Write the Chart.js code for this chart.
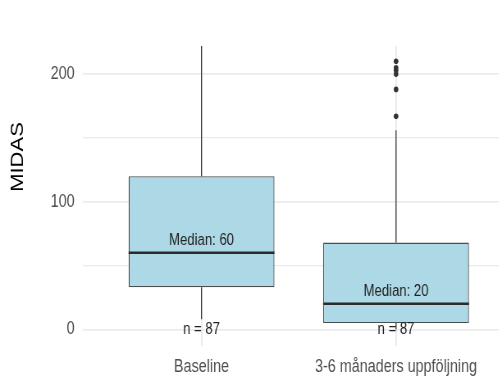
<!DOCTYPE html>
<html>
<head>
<meta charset="utf-8">
<script src="https://cdn.jsdelivr.net/npm/chart.js@4"></script>
<style>
  html, body { margin: 0; padding: 0; background: #fff; overflow: hidden; }
  #wrap { width: 612px; height: 378px; transform: scaleX(0.8203); transform-origin: 0 0; }
</style>
</head>
<body>
<div id="wrap"><canvas id="chart" width="612" height="378"></canvas></div>
<script>
// MIDAS scores per time point (box plot summary)
const categories = ['Baseline', '3-6 månaders uppföljning'];
const whiskerLow = [8, 0];
const q1 = [33, 5];
const medians = [60, 20];
const q3 = [120, 68];
const whiskerHigh = [222, 156];
const outliers = [[], [210, 205, 203, 200, 188, 167]];
const counts = [87, 87];
const yGridValues = [0, 50, 100, 150, 200];
const yTickLabels = [0, 100, 200];

const FONT = '"Liberation Sans", Arial, sans-serif';

// boxes: floating bars from Q1 to Q3
const boxData = categories.map((c, i) => ({ x: i + 1, y: [q1[i], q3[i]] }));

// whiskers: vertical segments separated by gaps
const whiskerData = [];
categories.forEach((c, i) => {
  whiskerData.push({ x: i + 1, y: whiskerLow[i] }, { x: i + 1, y: q1[i] }, { x: i + 1, y: null });
  whiskerData.push({ x: i + 1, y: q3[i] }, { x: i + 1, y: whiskerHigh[i] }, { x: i + 1, y: null });
});

// outlier points
const outlierData = [];
outliers.forEach((vals, i) => vals.forEach(v => outlierData.push({ x: i + 1, y: v })));

// median line + text annotations for each box
const boxAnnotations = {
  id: 'boxAnnotations',
  afterDatasetsDraw(chart) {
    const { ctx, scales: { x, y } } = chart;
    const bars = chart.getDatasetMeta(0).data;
    ctx.save();
    bars.forEach((bar, i) => {
      const half = bar.width / 2;
      const my = y.getPixelForValue(medians[i]);
      ctx.strokeStyle = '#2b2b2b';
      ctx.lineWidth = 2.5;
      ctx.beginPath();
      ctx.moveTo(bar.x - half, my);
      ctx.lineTo(bar.x + half, my);
      ctx.stroke();

      ctx.fillStyle = '#222';
      ctx.font = '16px ' + FONT;
      ctx.textAlign = 'center';
      ctx.textBaseline = 'middle';
      ctx.fillText('Median: ' + medians[i], bar.x, my - 12);
      ctx.fillText('n = ' + counts[i], x.getPixelForValue(i + 1), y.getPixelForValue(0));
    });
    ctx.restore();
  }
};

// rotated y axis title
const yTitle = {
  id: 'yTitle',
  afterDraw(chart) {
    const { ctx } = chart;
    ctx.save();
    ctx.translate(22, 157);
    ctx.rotate(-Math.PI / 2);
    ctx.fillStyle = '#000';
    ctx.font = '22px ' + FONT;
    ctx.textAlign = 'center';
    ctx.textBaseline = 'middle';
    ctx.fillText('MIDAS', 0, 0);
    ctx.restore();
  }
};

new Chart(document.getElementById('chart'), {
  type: 'bar',
  data: {
    datasets: [
      {
        type: 'bar',
        data: boxData,
        backgroundColor: '#add8e6',
        borderColor: '#4d4d4d',
        borderWidth: 1.3,
        borderSkipped: false,
        barPercentage: 0.75,
        categoryPercentage: 1
      },
      {
        type: 'scatter',
        data: outlierData,
        pointRadius: 2.8,
        pointBackgroundColor: '#333',
        pointBorderWidth: 0,
        showLine: false
      },
      {
        type: 'line',
        data: whiskerData,
        borderColor: '#333',
        borderWidth: 1.2,
        pointRadius: 0,
        spanGaps: false,
        fill: false
      }
    ]
  },
  options: {
    responsive: false,
    animation: false,
    devicePixelRatio: 1,
    layout: { padding: { top: 46, left: 0, right: 0, bottom: 0 } },
    plugins: { legend: { display: false }, tooltip: { enabled: false } },
    scales: {
      x: {
        type: 'linear',
        min: 0.39,
        max: 2.528,
        offset: false,
        border: { display: false },
        grid: { offset: false, color: '#ebebeb', lineWidth: 2, drawTicks: false },
        afterBuildTicks: s => { s.ticks = categories.map((c, i) => ({ value: i + 1 })); },
        afterFit: s => { s.height = 32; },
        ticks: {
          autoSkip: false,
          maxRotation: 0,
          padding: 11,
          color: '#4d4d4d',
          font: { family: FONT, size: 17.5 },
          callback: (v, i) => categories[i]
        }
      },
      y: {
        type: 'linear',
        min: -13,
        max: 222,
        border: { display: false },
        grid: {
          color: '#ebebeb',
          drawTicks: false,
          lineWidth: c => yTickLabels.includes(c.tick.value) ? 1.8 : 1.2
        },
        afterBuildTicks: s => { s.ticks = yGridValues.map(v => ({ value: v })); },
        afterFit: s => { s.width = 101; },
        ticks: {
          autoSkip: false,
          padding: 10,
          color: '#4d4d4d',
          font: { family: FONT, size: 17.5 },
          callback: v => yTickLabels.includes(v) ? String(v) : ''
        }
      }
    }
  },
  plugins: [boxAnnotations, yTitle]
});
</script>
</body>
</html>
